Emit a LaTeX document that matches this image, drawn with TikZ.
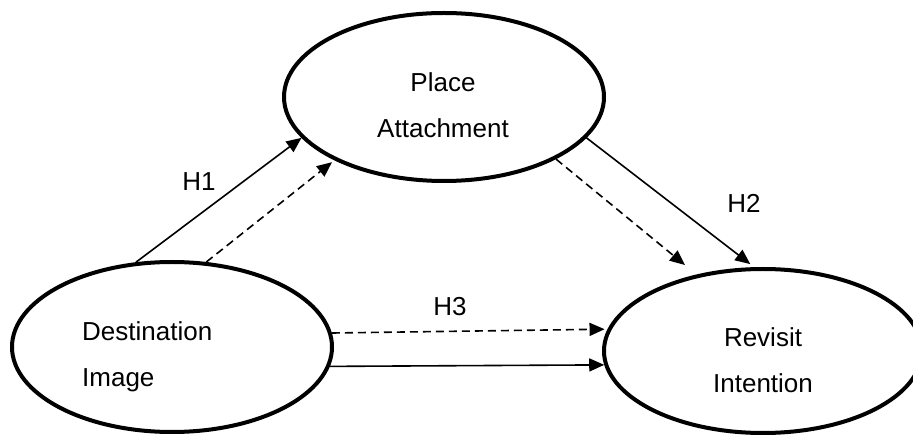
\documentclass[tikz,border=0pt]{standalone}
\usepackage{fontspec}
\setmainfont{Liberation Sans}
\usetikzlibrary{shapes.geometric, arrows.meta}

\begin{document}
\begin{tikzpicture}[
  x=1pt, y=-1pt,
  every node/.style={font=\fontsize{26}{46}\selectfont},
  construct/.style={ellipse, draw, line width=4pt, inner sep=0pt},
  ctext/.style={inner sep=0pt, align=center},
  hyp/.style={inner sep=0pt},
  effect/.style={-{Triangle[length=15pt, width=13pt]}, line width=1.6pt},
  mediated/.style={effect, dash pattern=on 8pt off 5pt}
]
  \useasboundingbox (0,0) rectangle (913,435);
  \clip (0,0) rectangle (913,435);

  \node[construct, minimum width=320pt, minimum height=168pt] (place) at (444,97) {};
  \node[construct, minimum width=320pt, minimum height=170pt] (dest) at (172,347) {};
  \node[construct, minimum width=318pt, minimum height=164pt] (revisit) at (763,351) {};

  \node[ctext] (placetxt) at (443,105.3) {Place\\Attachment};
  \node[ctext, align=left, anchor=west] (desttxt) at (82,356.5) {Destination\\Image};
  \node[ctext] (revisittxt) at (763,360.7) {Revisit\\Intention};

  \draw[effect] (dest.113.5) -- (place.196);
  \draw[mediated, shorten >=3pt] (dest.68.8) -- (place.210);
  \node[hyp] (h1) at (199,182) {H1};

  \draw[effect, shorten >=5pt] (place.344) -- (revisit.96.5);
  \draw[mediated, shorten >=15pt] (place.331) -- (revisit.131.5);
  \node[hyp] (h2) at (744,203) {H2};

  \draw[mediated, shorten >=3pt] (dest.5.7) -- (revisit.172.6);
  \draw[effect] (dest.353.1) -- (revisit.185.5);
  \node[hyp] (h3) at (450,307) {H3};
\end{tikzpicture}
\end{document}
